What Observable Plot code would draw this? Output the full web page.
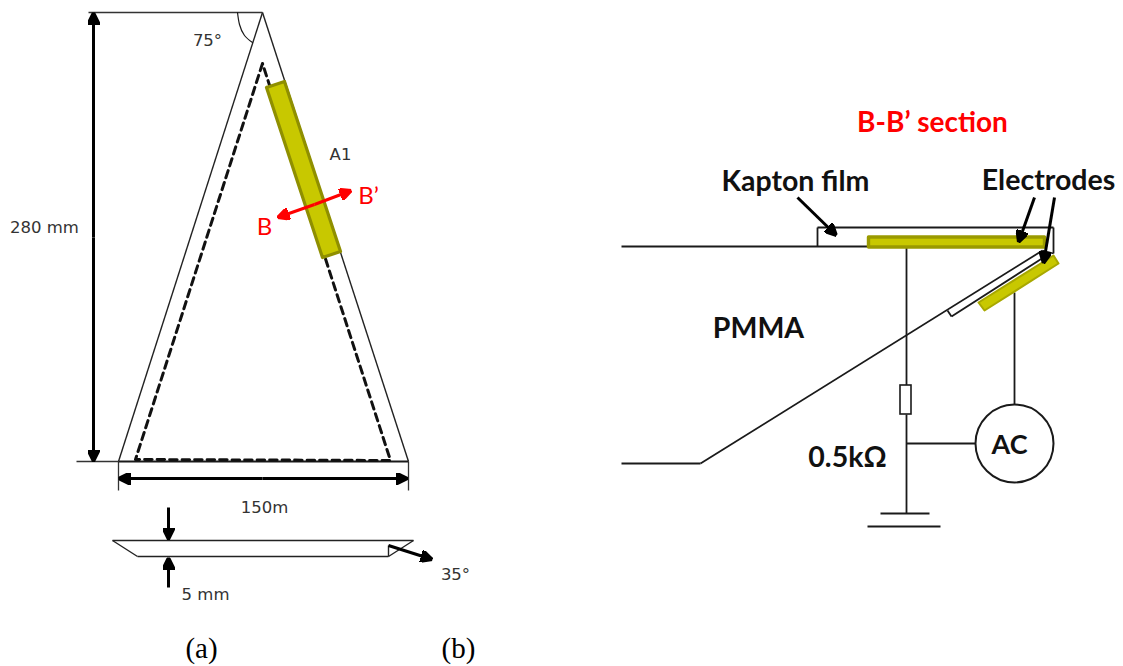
<!DOCTYPE html>
<html>
<head>
<meta charset="utf-8">
<script src="https://cdn.jsdelivr.net/npm/d3@7"></script>
<script src="https://cdn.jsdelivr.net/npm/@observablehq/plot@0.6"></script>
<style>
html,body{margin:0;padding:0;background:#fff}
svg{display:block}
</style>
</head>
<body>
<script>
// ---- diagram geometry (in picture units) ----
const thinSegments = [
  [621,246,867,246],[817,227,1053,227],[817,227,817,246],[1053,227,1053,253],[1053,253,1042,250],
  [1042,250,700,463],[700,463,621,463],[1043,257,951,316],[951,316,947,310],[1042,250,1043,257],
  [906,247,906,385],[906,414,906,513],[906,443,975,443],[1014,292,1014,404],
  [880,513,929,513],[867,526,940,526]
];
const outlineSegments = [
  [262,12,118,461],[262,12,408,461],
  [112,540,413,540],[112,540,137,556],[137,556,388,556],[388,556,413,540],[388,545,388,556]
];
const guideSegments = [[76,461,118,461],[118,461,118,490],[408,461,408,490],[88,12,262,12]];
const baseSegments = [[118,461,408,461]];
const dashedOutline = [[262,63],[135,459],[390,460],[262,63]];
const angleArc = [[237,12],[239,24],[244,35],[252,42]];
const stripElectrode = [[266,87],[284,81],[340,251],[322,257],[266,87]];
const topElectrode = [[868,236.5],[1044,236.5],[1044,246.5],[868,246.5],[868,236.5]];
const lowerElectrode = [[978,302],[1053,255],[1058,263],[984,310],[978,302]];
const heavyArrows = [
  [93,237,93,12],[93,237,93,461],[262,478,118,478],[262,478,407,478],
  [168,507,168,539],[168,587,168,557],[388,545,432,559],
  [797,197,836,235],[1034,197,1018,242],[1054,197,1043,263]
];
const redArrows = [[314,204,277,217],[314,204,351,190]];
const resistor = [[900,385,911,414]];
const source = [[1014,443]];
const thinLabels = [
  ["280 mm",44,227],["75°",207,40],["A1",340,154],["150m",264,507],
  ["5 mm",205,594],["35°",455,574]
];
const redLabels = [["B",264,227],["B’",368,196]];
const panelLabels = [["(a)",201,648],["(b)",458,648]];
const boldLabels = [
  ["Kapton film",795,181],["Electrodes",1048,180],["PMMA",758,328],["0.5kΩ",847,457]
];
const sourceLabel = [["AC",1009,445]];
const sectionLabel = [["B-B’ section",932,123]];

const ink = "#1a1a1a";
const arrowHead = (len, half) => (color) => {
  const ns = "http://www.w3.org/2000/svg";
  const m = document.createElementNS(ns, "marker");
  m.setAttribute("viewBox", `${-len} ${-half} ${len} ${half * 2}`);
  m.setAttribute("markerWidth", len);
  m.setAttribute("markerHeight", half * 2);
  m.setAttribute("markerUnits", "userSpaceOnUse");
  m.setAttribute("orient", "auto");
  const p = document.createElementNS(ns, "path");
  p.setAttribute("d", `M${-len},${-half}L0,0L${-len},${half}Z`);
  p.setAttribute("fill", color);
  m.appendChild(p);
  return m;
};
const seg = (data, o) => Plot.link(data, {x1: d => d[0], y1: d => d[1], x2: d => d[2], y2: d => d[3], ...o});
const poly = (data, o) => Plot.line(data, {x: d => d[0], y: d => d[1], ...o});
const label = (data, o) => Plot.text(data, {x: d => d[1], y: d => d[2], text: d => d[0], ...o});

const chart = Plot.plot({
  width: 1123, height: 666,
  margin: 0,
  style: {background: "#fff"},
  x: {domain: [0, 1123], range: [0, 1123], axis: null},
  y: {domain: [0, 666], range: [0, 666], axis: null},
  marks: [
    seg(thinSegments, {stroke: ink, strokeWidth: 1.8}),
    seg(outlineSegments, {stroke: "#222", strokeWidth: 1.4}),
    seg(guideSegments, {stroke: "#333", strokeWidth: 1.3}),
    seg(baseSegments, {stroke: ink, strokeWidth: 2}),
    poly(dashedOutline, {stroke: "#111", strokeWidth: 3, strokeDasharray: "7.5,5"}),
    poly(angleArc, {stroke: ink, strokeWidth: 1.2, curve: "natural"}),
    poly(stripElectrode, {fill: "#c8c800", stroke: "#8f8f00", strokeWidth: 3.2}),
    poly(topElectrode, {fill: "#c8c800", stroke: "#9a9a00", strokeWidth: 3.4}),
    poly(lowerElectrode, {fill: "#c8c800", stroke: "#a8a800", strokeWidth: 2}),
    Plot.rect(resistor, {x1: d => d[0], y1: d => d[1], x2: d => d[2], y2: d => d[3], fill: "#fff", stroke: ink, strokeWidth: 1.6}),
    Plot.dot(source, {x: d => d[0], y: d => d[1], r: 39, fill: "#fff", stroke: ink, strokeWidth: 2}),
    seg(heavyArrows, {stroke: "#000", strokeWidth: 3, markerEnd: arrowHead(12, 6)}),
    seg(redArrows, {stroke: "#f00", strokeWidth: 3, markerEnd: arrowHead(12, 6)}),
    label(thinLabels, {fontFamily: "DejaVu Sans", fontSize: 16.5, fill: "#333"}),
    label(redLabels, {fontFamily: "Lato", fontSize: 24, fill: "#f00"}),
    label(panelLabels, {fontFamily: "Liberation Serif", fontSize: 29, fill: "#000"}),
    label(boldLabels, {fontFamily: "Lato", fontWeight: 700, fontSize: 28.5, fill: "#111"}),
    label(sourceLabel, {fontFamily: "Lato", fontWeight: 700, fontSize: 27, fill: "#111"}),
    label(sectionLabel, {fontFamily: "Lato", fontWeight: 700, fontSize: 28, fill: "#f00"})
  ]
});
document.body.appendChild(chart);
</script>
</body>
</html>
